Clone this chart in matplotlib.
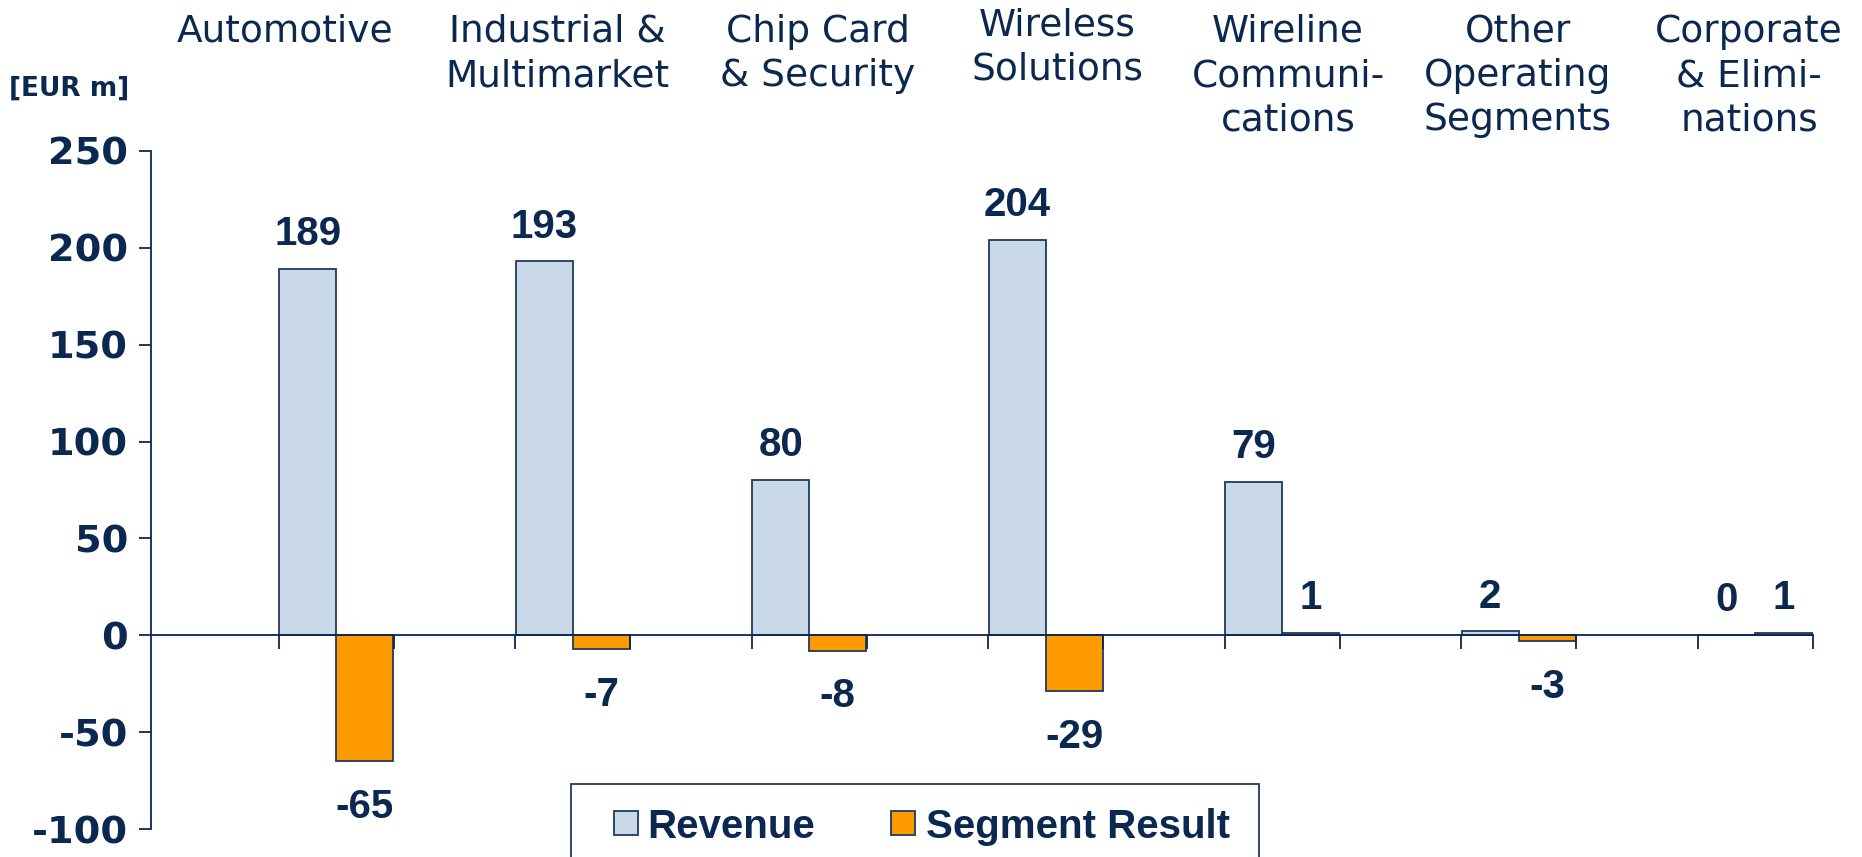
import numpy as np
import matplotlib
matplotlib.use("Agg")
import matplotlib.pyplot as plt
from matplotlib.patches import Rectangle

# data
segments = ["Automotive", "Industrial &\nMultimarket", "Chip Card\n& Security",
            "Wireless\nSolutions", "Wireline\nCommuni-\ncations",
            "Other\nOperating\nSegments", "Corporate\n& Elimi-\nnations"]
revenue = [189, 193, 80, 204, 79, 2, 0]
seg_result = [-65, -7, -8, -29, 1, -3, 1]
y_ticks = [-100, -50, 0, 50, 100, 150, 200, 250]
series_names = ["Revenue", "Segment Result"]

navy = "#0b2850"
rev_color = "#c9d9e7"
seg_color = "#ff9a00"
edge = "#1f3a60"
num_font = "Liberation Sans"

W, H = 1862, 857
fig = plt.figure(figsize=(W / 100, H / 100), dpi=100)
ax = fig.add_axes([151 / W, 1 - 829 / H, (1813 - 151) / W, (829 - 151) / H])

x = np.arange(len(segments))
bw = 0.241
ax.bar(x - bw / 2, revenue, bw, color=rev_color, edgecolor=edge, linewidth=1.3)
ax.bar(x + bw / 2, seg_result, bw, color=seg_color, edgecolor=edge, linewidth=1.3)

# value labels
for xi, v in zip(x - bw / 2, revenue):
    ax.annotate(str(v), (xi, max(v, 0)), xytext=(0, 28), textcoords="offset points",
                ha="center", va="center_baseline", fontsize=29, fontweight="bold",
                family=num_font, color=navy)
for xi, v in zip(x + bw / 2, seg_result):
    off = 28 if v >= 0 else -30
    ax.annotate(str(v), (xi, v), xytext=(0, off), textcoords="offset points",
                ha="center", va="center_baseline", fontsize=29, fontweight="bold",
                family=num_font, color=navy)

ax.set_xlim(-0.783, 6.245)
ax.set_ylim(-100, 250)
ax.set_yticks(y_ticks)
ax.set_yticklabels([str(t) for t in y_ticks], fontsize=27.5, fontweight="bold",
                   family="DejaVu Sans", color=navy)
edges = np.sort(np.concatenate([x - 0.243, x + 0.243]))
ax.set_xticks(edges)
ax.set_xticklabels([])
ax.tick_params(axis="x", direction="out", length=10, width=1.3, color=navy)
ax.tick_params(axis="y", direction="out", length=8.5, width=1.3, color=navy, pad=8)

for s in ["top", "right"]:
    ax.spines[s].set_visible(False)
ax.spines["bottom"].set_position(("data", 0))
ax.spines["bottom"].set_color(navy)
ax.spines["bottom"].set_linewidth(1.3)
ax.spines["left"].set_color(navy)
ax.spines["left"].set_linewidth(1.3)

# category headers
label_x = [285, 557, 818, 1057, 1288, 1518, 1749]
label_top = [14, 14, 14, 7, 14, 14, 14]
for name, lx, ly in zip(segments, label_x, label_top):
    fig.text(lx / W, 1 - ly / H, name, ha="center", va="top", fontsize=27,
             family="DejaVu Sans", color=navy, linespacing=1.29)

fig.text(9 / W, 1 - 89 / H, "[EUR m]", ha="left", va="center", fontsize=19,
         fontweight="bold", family="DejaVu Sans", color=navy)

# legend box
fig.add_artist(Rectangle((571 / W, 1 - 880 / H), (1259 - 571) / W, (880 - 784) / H,
                         transform=fig.transFigure, facecolor="white",
                         edgecolor=edge, linewidth=1.3))
for sx, tx, col, name in zip([614, 891], [647, 926], [rev_color, seg_color], series_names):
    fig.add_artist(Rectangle((sx / W, 1 - 835 / H), 24 / W, 24 / H,
                             transform=fig.transFigure, facecolor=col,
                             edgecolor=edge, linewidth=1.3))
    fig.text(tx / W, 1 - 823 / H, name, ha="left", va="center_baseline", fontsize=29,
             fontweight="bold", family=num_font, color=navy)

fig.savefig("out.png", dpi=100)
